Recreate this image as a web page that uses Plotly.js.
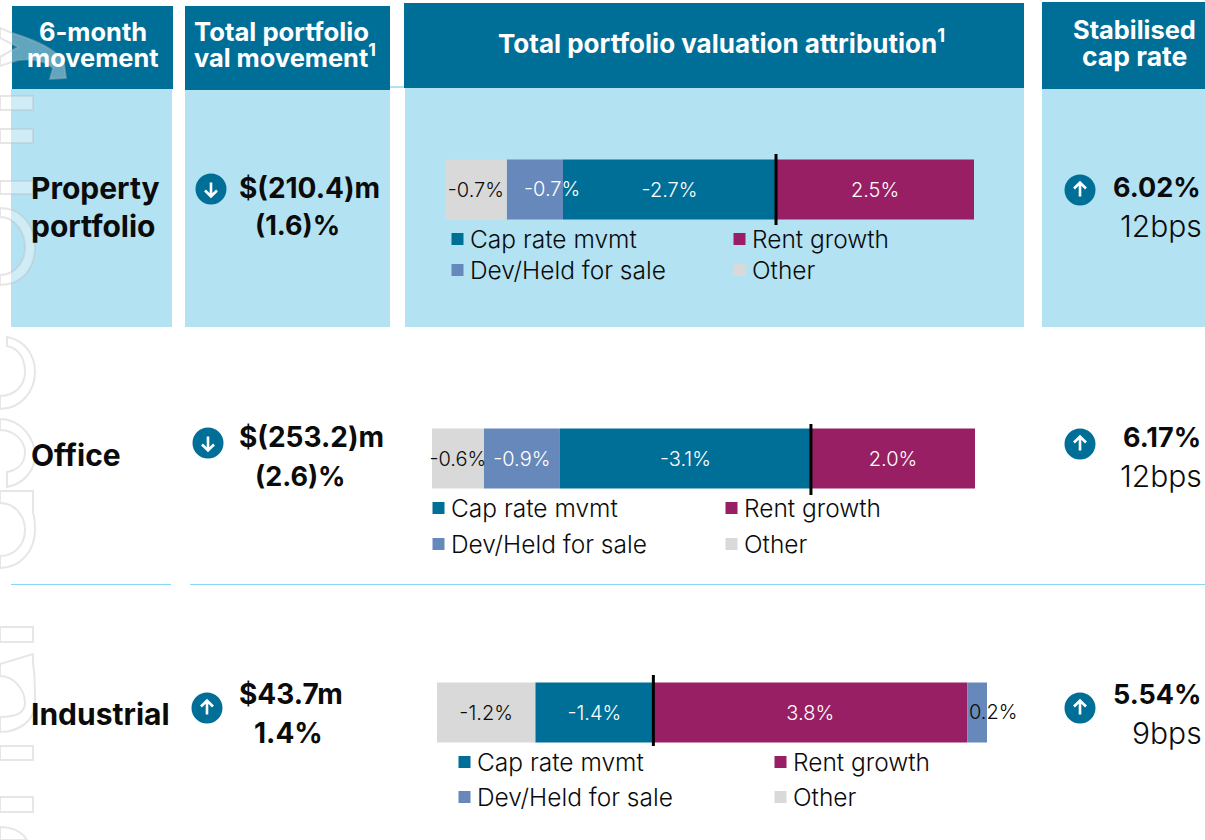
<!DOCTYPE html>
<html>
<head>
<meta charset="utf-8">
<script src="https://cdn.plot.ly/plotly-3.0.1.min.js"></script>
<style>html,body{margin:0;padding:0;background:#fff}#c{width:1205px;height:840px}</style>
</head>
<body>
<div id="c"></div>
<script>
// ---- data ----
const categories = ['Property portfolio', 'Office', 'Industrial'];
const capRate    = [-2.69, -3.06, -1.43];
const rentGrowth = [2.5, 2.0, 3.8];
const devHeld    = [-0.71, -0.93, 0.24];
const otherMove  = [-0.78, -0.63, -1.19];
const capLabels   = ['-2.7%', '-3.1%', '-1.4%'];
const rentLabels  = ['2.5%', '2.0%', '3.8%'];
const devLabels   = [null, '-0.9%', null];
const otherLabels = ['-0.7%', '-0.6%', '-1.2%'];
const seriesNames = ['Cap rate mvmt', 'Rent growth', 'Dev/Held for sale', 'Other'];

// ---- style ----
const W = 1205, H = 840;
const FONT = 'Inter, "Noto Sans", sans-serif';
const TEAL = '#006F98', LIGHT = '#B3E2F3', PLUM = '#981F64', SLATE = '#6788BA', GREY = '#D9D9D9', INK = '#0b0b0b';
const px = x => x / W, py = y => 1 - y / H;

const geom = [
  {l:445, r:974, t:153, b:226, line0:154, line1:225, leg:[[430,216.5],[430,247.5]], entry:237},
  {l:432, r:975, t:422, b:495, line0:424, line1:495, leg:[[411,485.5],[411,521.5]], entry:248},
  {l:437, r:987, t:676, b:749, line0:675, line1:746, leg:[[437,739.5],[437,774.5]], entry:271}
];
const bargap = 1 - 60 / 73;

const data = [], layout = {
  width: W, height: H, margin: {l:0,r:0,t:0,b:0,autoexpand:false},
  paper_bgcolor:'#fff', plot_bgcolor:'rgba(0,0,0,0)',
  barmode:'relative', bargap, font:{family:FONT,color:INK}, showlegend:true,
  shapes:[], annotations:[]
};

const colors = [TEAL, PLUM, SLATE, GREY];
const series = [capRate, rentGrowth, devHeld, otherMove];
const labels = [capLabels, rentLabels, devLabels, otherLabels];
const labelCol = ['#fff','#fff','#fff',INK];

geom.forEach((g, i) => {
  const n = i + 1, xa = 'x' + (n > 1 ? n : ''), ya = 'y' + (n > 1 ? n : '');
  const xk = 'xaxis' + (n > 1 ? n : ''), yk = 'yaxis' + (n > 1 ? n : '');
  let neg = 0, pos = 0;
  series.forEach(s => { if (s[i] < 0) neg += s[i]; else pos += s[i]; });
  layout[xk] = {domain:[px(g.l), px(g.r)], range:[neg, pos], visible:false, fixedrange:true, anchor:ya};
  layout[yk] = {domain:[py(g.b), py(g.t)], visible:false, fixedrange:true, anchor:xa, type:'category'};
  const legRow = [0,0,1,1];
  series.forEach((s, k) => {
    const legId = 'legend' + (i*2 + legRow[k] === 0 ? '' : (i*2 + legRow[k] + 1));
    const tr = {
      type:'bar', orientation:'h', name:seriesNames[k], y:[categories[i]], x:[s[i]],
      xaxis:xa, yaxis:ya, legend:legId, marker:{color:colors[k], line:{width:0}},
      cliponaxis:false, hoverinfo:'name+x'
    };
    if (labels[k][i] !== null) {
      Object.assign(tr, {text:[labels[k][i]], textposition:'inside', insidetextanchor:'middle', textangle:0,
        constraintext:'none', textfont:{family:FONT,size:20,color:labelCol[k],weight:300}});
    } else {
      tr.textposition = 'none';
    }
    data.push(tr);
  });
  g.leg.forEach((p, r) => {
    const id = 'legend' + (i*2 + r === 0 ? '' : (i*2 + r + 1));
    layout[id] = {x:px(p[0]), y:py(p[1]), xanchor:'left', yanchor:'top', orientation:'h',
      bgcolor:'rgba(0,0,0,0)', entrywidth:g.entry, entrywidthmode:'pixels', itemclick:false, itemdoubleclick:false,
      font:{family:FONT,size:24.5,color:INK,weight:300}};
  });
});

// ---- panels ----
const rect = (x0,y0,x1,y1,fill) => ({type:'rect',xref:'paper',yref:'paper',x0:px(x0),x1:px(x1),y0:py(y1),y1:py(y0),fillcolor:fill,line:{width:0},layer:'below'});
layout.shapes.push(
  rect(11,89,172,327,LIGHT), rect(12,6,173,89,TEAL),
  rect(185,90,390,327,LIGHT), rect(185,6,390,90,TEAL),
  rect(390,86,405,88,LIGHT),
  rect(405,88,1024,327,LIGHT), rect(404,3,1024,88,TEAL),
  rect(1042,89,1205,327,LIGHT), rect(1042,2,1205,89,TEAL),
  rect(11,584,171,585,'#86D8F5'), rect(190,584,1205,585,'#86D8F5')
);

// ---- watermark outlines ----
const toPaper = d => d.replace(/(-?\d+(?:\.\d+)?),(-?\d+(?:\.\d+)?)/g, (m,a,b) => px(+a).toFixed(5)+','+py(+b).toFixed(5));
const wm = [
  'M0,28 L12,33 C35,40 58,50 64,63 L66,78 L50,79 L53,68 C45,60 25,57 12,62 L0,66 L0,57 L18,47 L0,38 Z',
  'M0,96 L33,96 L33,110 L0,110 Z','M0,129 L33,129 L33,143 L0,143 Z','M0,181 L33,181 L33,194 L0,194 Z',
  'M0,208 C22,208 35,226 35,247 C35,268 22,285 0,285 L0,275 C14,275 25,263 25,247 C25,231 14,217 0,217 Z',
  'M7,337 C24,340 35,354 35,372 C35,392 20,409 0,409 L0,396 C14,396 25,386 25,372 C25,358 18,348 7,346 Z',
  'M0,419 C22,419 35,440 35,455 C35,470 24,484 7,487 L7,472 C18,470 25,463 25,452 C25,441 14,430 0,430 Z',
  'M0,491 L33,491 L33,513 C35,518 35,524 35,530 C35,551 20,568 0,568 L0,556 C14,556 25,545 25,530 C25,515 14,503 0,503 Z',
  'M0,627 L33,627 L33,642 L0,642 Z',
  'M33,654 L33,664 C35,674 35,690 35,703 C35,720 20,732 0,732 L0,717 C14,717 25,714 25,703 C25,690 14,676 0,676 L0,664 Z',
  'M0,746 L33,746 L33,760 L0,760 Z','M0,797 L33,797 L33,812 L0,812 Z',
  'M0,827 C12,827 22,832 27,840 L0,840 Z'
];
wm.forEach(d => layout.shapes.push({type:'path',xref:'paper',yref:'paper',path:toPaper(d),
  fillcolor:'rgba(255,255,255,0.38)',line:{color:'rgba(185,185,185,0.36)',width:2},layer:'below'}));

// ---- zero lines ----
geom.forEach((g,i) => {
  const n = i+1, s = n>1?n:'';
  layout.shapes.push({type:'line',xref:'x'+s,yref:'paper',x0:0,x1:0,y0:py(g.line1),y1:py(g.line0),line:{color:'#000',width:3},layer:'above'});
});

// ---- icons ----
const icon = (cx,cy,up) => {
  layout.shapes.push({type:'circle',xref:'paper',yref:'paper',x0:px(cx-15.5),x1:px(cx+15.5),y0:py(cy+15.5),y1:py(cy-15.5),fillcolor:TEAL,line:{width:0},layer:'above'});
  const dir = up ? -1 : 1;
  const d = `M${cx},${cy-6.5*dir} L${cx},${cy+7*dir} M${cx-6},${cy+1.5*dir} L${cx},${cy+7.5*dir} L${cx+6},${cy+1.5*dir}`;
  layout.shapes.push({type:'path',xref:'paper',yref:'paper',path:toPaper(d),line:{color:'#fff',width:2.6},layer:'above'});
};
icon(211,189,false); icon(208,443,false); icon(207,708,true);
icon(1080,190,true); icon(1080,444,true); icon(1080,708,true);

// ---- text ----
const T = (text,x,y,size,opt={}) => layout.annotations.push({
  text, xref:'paper', yref:'paper', x:px(x), y:py(y), xanchor:opt.a||'left', yanchor:'middle', showarrow:false,
  font:{family:FONT,size,color:opt.c||INK,weight:opt.w||700}
});
T('6-month',93,32,25.4,{c:'#fff',a:'center'}); T('movement',93,58,25.4,{c:'#fff',a:'center'});
T('Total portfolio',191.5,32,25.7,{c:'#fff'}); T('val movement<sup>1</sup>',192,56,25.4,{c:'#fff'});
T('Total portfolio valuation attribution<sup>1</sup>',721,41,26,{c:'#fff',a:'center'});
T('Stabilised',1134,30,25.4,{c:'#fff',a:'center'}); T('cap rate',1134,56,26.5,{c:'#fff',a:'center'});
const RS = 30, VS = 28;
T('Property',29,188,RS); T('portfolio',29,226,RS); T('Office',29,455,RS); T('Industrial',29,714,RS);
T('$(210.4)m',237,188,VS); T('(1.6)%',253,226,27);
T('$(253.2)m',237,437,VS); T('(2.6)%',253,476,27);
T('$43.7m',237,694,VS); T('1.4%',252,733,VS);
T('6.02%',1203,188,27,{a:'right'}); T('12bps',1204,226,30,{a:'right',w:300});
T('6.17%',1203,437,27,{a:'right'}); T('12bps',1204,476,30,{a:'right',w:300});
T('5.54%',1203,694,27,{a:'right'}); T('9bps',1204,733,30,{a:'right',w:300});

// offset bar labels
layout.annotations.push(
  {text:'-0.7%',xref:'x',yref:'paper',x:capRate[0]+devHeld[0]/2,xshift:17,y:py(189),xanchor:'center',yanchor:'middle',showarrow:false,font:{family:FONT,size:20,color:'#fff',weight:300}},
  {text:'0.2%',xref:'x3',yref:'paper',x:rentGrowth[2]+devHeld[2]/2,xshift:16,y:py(712),xanchor:'center',yanchor:'middle',showarrow:false,font:{family:FONT,size:20,color:INK,weight:300}}
);

Plotly.newPlot('c', data, layout, {displayModeBar:false}).then(gd => {
  // tighten the legend swatch-to-label gap to match the reference
  gd.querySelectorAll('.legendsymbols').forEach(el => el.setAttribute('transform','translate(7.5,0)'));
});
</script>
</body>
</html>
